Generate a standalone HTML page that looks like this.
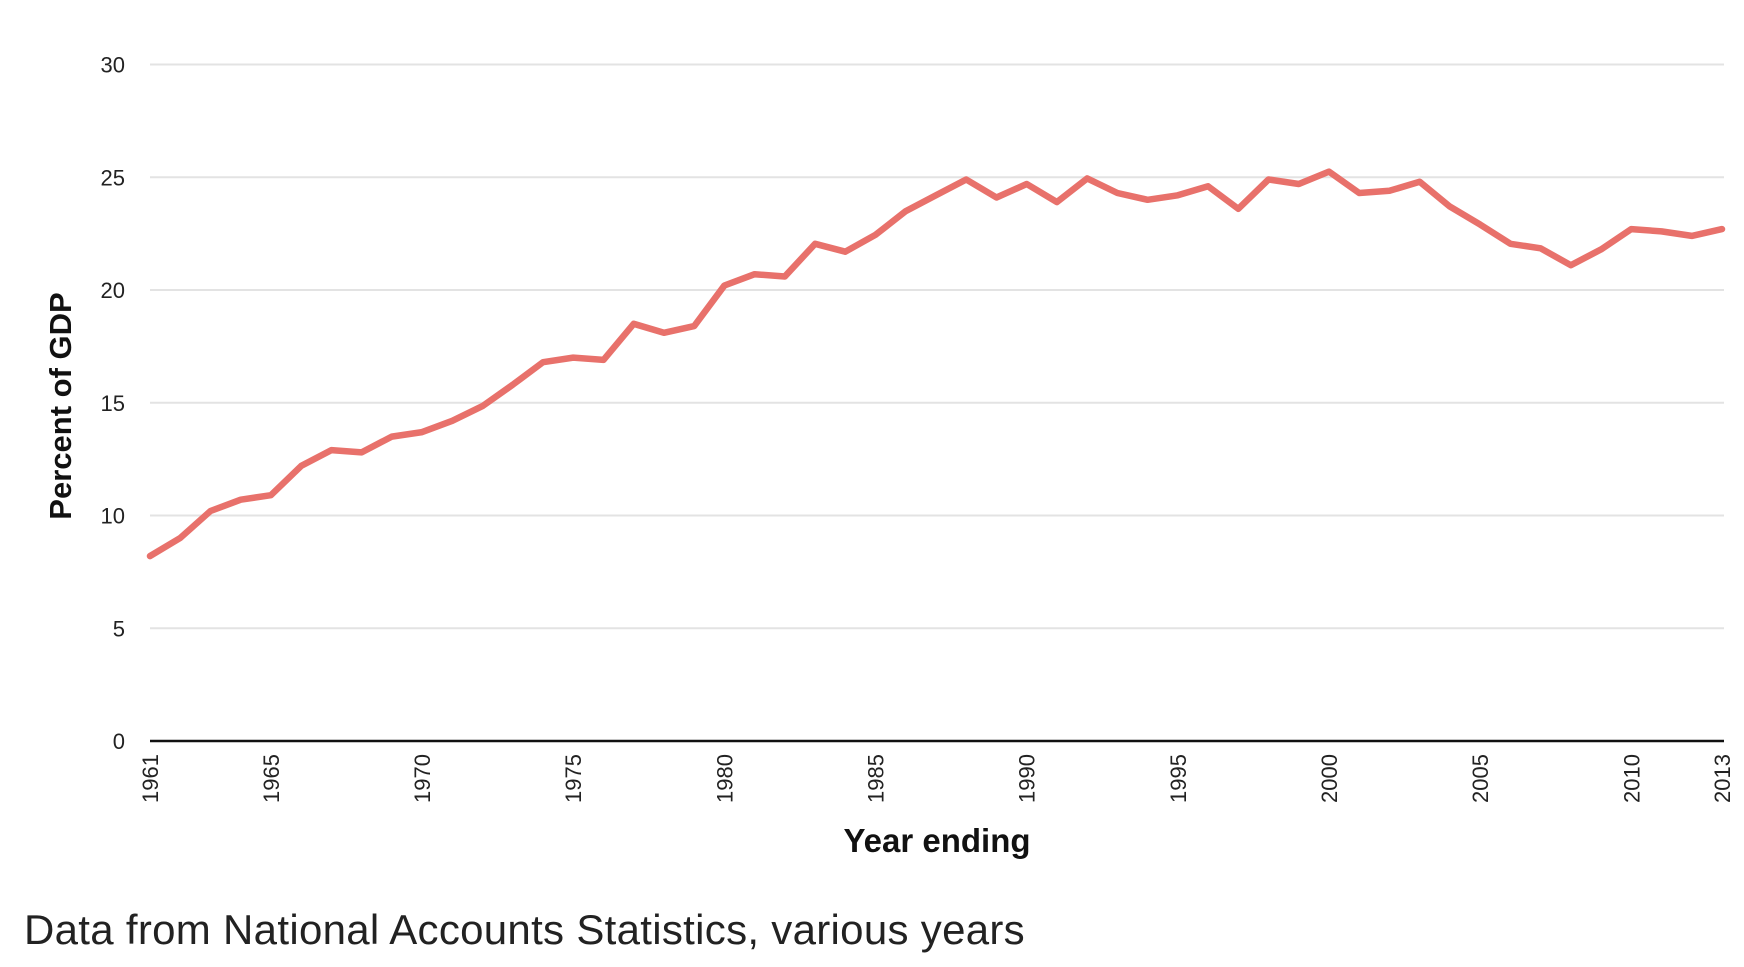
<!DOCTYPE html>
<html><head><meta charset="utf-8"><style>
html,body{margin:0;padding:0;background:#fff;width:1744px;height:967px;overflow:hidden}
svg text{font-family:"Liberation Sans",sans-serif}
</style></head><body>
<svg id="chart" width="1744" height="967" xmlns="http://www.w3.org/2000/svg">
<g id="grid"></g>
<g id="yticks"></g>
<g id="xticks"></g>
<line x1="150" x2="1724" y1="741" y2="741" stroke="#111" stroke-width="2.5"/>
<path id="series" fill="none" stroke="#e8716b" stroke-width="6.5" stroke-linejoin="round" stroke-linecap="round"/>
<text transform="translate(71,406) rotate(-90)" text-anchor="middle" font-size="31" font-weight="bold" fill="#111">Percent of GDP</text>
<text x="937" y="852" text-anchor="middle" font-size="33" font-weight="bold" fill="#111">Year ending</text>
<text x="24" y="944" font-size="42" letter-spacing="0.3" fill="#222">Data from National Accounts Statistics, various years</text>
</svg>
<script>
const years=[1961,1962,1963,1964,1965,1966,1967,1968,1969,1970,1971,1972,1973,1974,1975,1976,1977,1978,1979,1980,1981,1982,1983,1984,1985,1986,1987,1988,1989,1990,1991,1992,1993,1994,1995,1996,1997,1998,1999,2000,2001,2002,2003,2004,2005,2006,2007,2008,2009,2010,2011,2012,2013];
const values=[8.2,9.0,10.2,10.7,10.9,12.2,12.9,12.8,13.5,13.7,14.2,14.85,15.8,16.8,17.0,16.9,18.5,18.1,18.4,20.2,20.7,20.6,22.05,21.7,22.45,23.5,24.2,24.9,24.1,24.7,23.9,24.95,24.3,24.0,24.2,24.6,23.6,24.9,24.7,25.25,24.3,24.4,24.8,23.7,22.9,22.05,21.85,21.1,21.8,22.7,22.6,22.4,22.7];
const yTicks=[0,5,10,15,20,25,30];
const xTicks=[1961,1965,1970,1975,1980,1985,1990,1995,2000,2005,2010,2013];
const NS="http://www.w3.org/2000/svg";
function xs(y){return 150+(y-1961)*(1722-150)/(2013-1961);}
function ys(v){return 741-v*(741-64.5)/30;}
const grid=document.getElementById('grid'),yt=document.getElementById('yticks'),xt=document.getElementById('xticks');
yTicks.forEach(t=>{
  if(t>0){const l=document.createElementNS(NS,'line');
  
  
  l.setAttribute('x1',150);l.setAttribute('x2',1724);l.setAttribute('y1',ys(t));l.setAttribute('y2',ys(t));
  l.setAttribute('stroke','#e3e3e3');l.setAttribute('stroke-width','2');grid.appendChild(l);}
  const tx=document.createElementNS(NS,'text');
  
  
  tx.setAttribute('x',125);tx.setAttribute('y',ys(t)+8);tx.setAttribute('text-anchor','end');
  tx.setAttribute('font-size','22');tx.setAttribute('fill','#222');tx.textContent=t;yt.appendChild(tx);
});
xTicks.forEach(t=>{
  const tx=document.createElementNS(NS,'text');
  
  
  const x=xs(t)+8;
  tx.setAttribute('transform','translate('+x+',754) rotate(-90)');
  tx.setAttribute('text-anchor','end');tx.setAttribute('font-size','22');tx.setAttribute('fill','#222');
  tx.textContent=t;xt.appendChild(tx);
});
document.getElementById('series').setAttribute('d',years.map((y,i)=>(i?'L':'M')+xs(y).toFixed(1)+','+ys(values[i]).toFixed(1)).join(' '));
</script>
</body></html>
